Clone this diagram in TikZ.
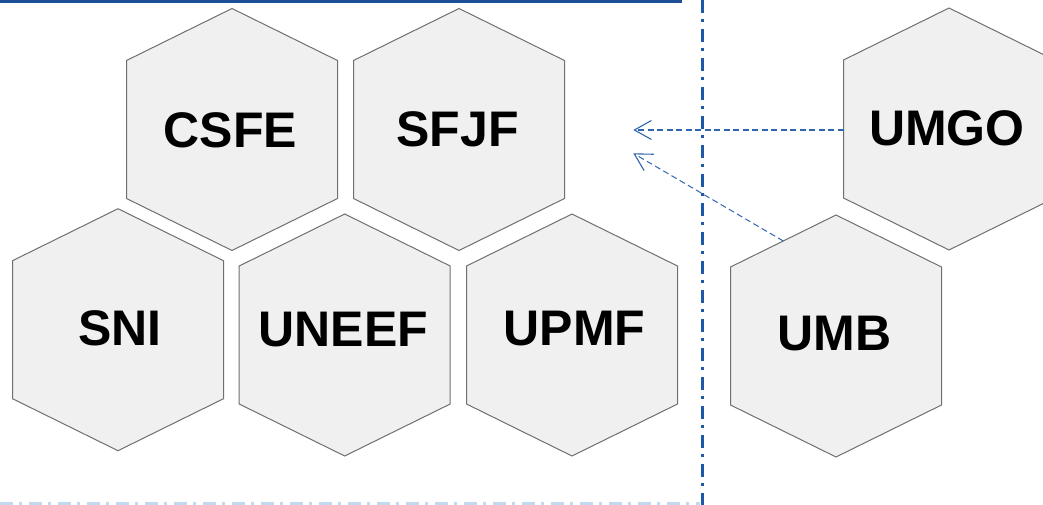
\documentclass[tikz,border=0pt]{standalone}
\usepackage{fontspec}
\setmainfont{Liberation Sans}
\usetikzlibrary{arrows.meta,calc}
\definecolor{hexfill}{HTML}{F0F0F0}
\definecolor{hexline}{HTML}{6F6F6F}
\definecolor{darkblue}{HTML}{1D4F96}
\definecolor{midblue}{HTML}{1F58A6}
\definecolor{arrowblue}{HTML}{2F65B0}
\definecolor{paleblue}{HTML}{C3D9F0}
\tikzset{
  hexshape/.style={fill=hexfill,draw=hexline,line width=1pt,line join=miter},
  hexlabel/.style={font=\bfseries\fontsize{50}{50}\selectfont,anchor=base,inner sep=0pt},
  linkarrow/.style={draw=arrowblue,line width=1.2pt,dash pattern=on 6pt off 3.5pt,
    -{Straight Barb[length=17pt,width=19pt,line width=1.1pt]}},
  divider/.style={draw=midblue,line width=2.5pt,dash pattern=on 13pt off 6pt on 3pt off 7pt},
}
% \hexagon{name}{cx}{cy}
\newcommand{\hexagon}[3]{%
  \coordinate (#1-n)  at (#2,#3-121);
  \coordinate (#1-ne) at (#2+105.5,#3-69);
  \coordinate (#1-se) at (#2+105.5,#3+69);
  \coordinate (#1-s)  at (#2,#3+121);
  \coordinate (#1-sw) at (#2-105.5,#3+69);
  \coordinate (#1-nw) at (#2-105.5,#3-69);
  \path[hexshape] (#1-n) -- (#1-ne) -- (#1-se) -- (#1-s) -- (#1-sw) -- (#1-nw) -- cycle;
}
\begin{document}
\begin{tikzpicture}[x=1pt,y=-1pt]
\useasboundingbox (0,0) rectangle (1043,505);
% top rule
\draw[draw=darkblue,line width=3.5pt] (0,1.5) -- (682,1.5);
% hexagons
\hexagon{csfe}{232}{129.5}
\hexagon{sfjf}{459}{129.5}
\hexagon{umgo}{949}{129}
\hexagon{sni}{118}{329.7}
\hexagon{uneef}{344.7}{335}
\hexagon{upmf}{572}{335}
\hexagon{umb}{836}{336}
% labels
\node[hexlabel] (tcsfe)  at (230.5,147.5) {CSFE};
\node[hexlabel] (tsfjf)  at (457.5,146.5) {SFJF};
\node[hexlabel] (tumgo)  at (947,145.5) {UMGO};
\node[hexlabel] (tumb)   at (834.5,350.5) {UMB};
\node[hexlabel] (tsni)   at (120,345.5) {SNI};
\node[hexlabel] (tuneef) at (343.5,346.5) {UNEEF};
\node[hexlabel] (tupmf)  at (574.5,345.5) {UPMF};
% divider lines
\coordinate (vtop) at (702.3,0);
\coordinate (vbot) at (702.3,505);
\draw[divider] (vtop) -- (vbot);
\coordinate (hl) at (0,503.5);
\coordinate (hr) at (700,503.5);
\draw[divider,draw=paleblue,line width=3pt] (hl) -- (hr);
% arrows
\coordinate (tip1) at (633.3,130);
\coordinate (tip2) at (633.3,153.3);
\coordinate (umgo-w) at (843.5,130);
\coordinate (umb-start) at ($(umb-nw)!0.5!(umb-n)$);
\draw[linkarrow] (umgo-w) -- (tip1);
\draw[linkarrow,line width=1pt] (umb-start) -- (tip2);
\end{tikzpicture}
\end{document}
